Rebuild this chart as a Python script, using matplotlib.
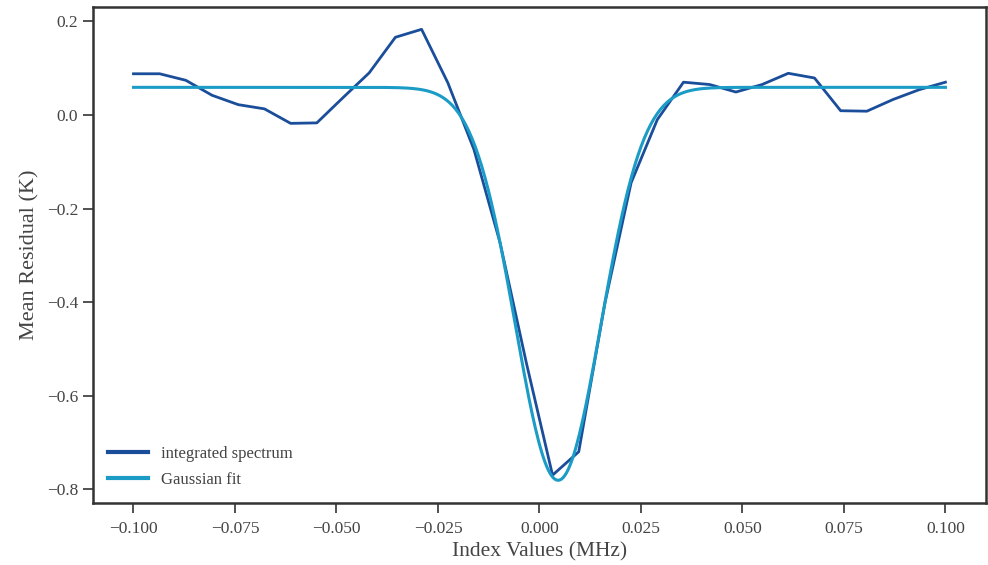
import numpy as np
import matplotlib
matplotlib.use('Agg')
import matplotlib.pyplot as plt

plt.rcParams['font.family'] = ['Liberation Serif', 'DejaVu Serif']
plt.rcParams['mathtext.fontset'] = 'stix'

# integrated spectrum, 32 channels between -0.1 and 0.1 MHz
freq = np.linspace(-0.1, 0.1, 32)
residual = [0.088, 0.088, 0.074, 0.042, 0.022, 0.013, -0.018, -0.017,
            0.037, 0.090, 0.166, 0.183, 0.069, -0.074, -0.274, -0.530,
            -0.770, -0.720, -0.402, -0.145, -0.010, 0.070, 0.065, 0.049,
            0.065, 0.089, 0.079, 0.009, 0.008, 0.033, 0.054, 0.070]

# gaussian fit parameters
offset = 0.059
amp = -0.840
center = 0.0046
sigma = 0.0105

x_fit = np.linspace(-0.1, 0.1, 500)
y_fit = offset + amp * np.exp(-(x_fit - center) ** 2 / (2 * sigma ** 2))

dark = '#1a4e9a'
light = '#1b9cc6'
gray = '#333333'

fig = plt.figure(figsize=(9.88, 5.65), dpi=100)
ax = fig.add_axes([0.094, 0.110, 0.904, 0.878])

ax.plot(freq, residual, color=dark, lw=2.0, label='integrated spectrum')
ax.plot(x_fit, y_fit, color=light, lw=2.2, label='Gaussian fit')

ax.set_xticks([-0.1, -0.075, -0.05, -0.025, 0.0, 0.025, 0.05, 0.075, 0.1])
ax.set_yticks([-0.8, -0.6, -0.4, -0.2, 0.0, 0.2])
ax.tick_params(direction='out', length=7, width=1.2, colors=gray,
               labelsize=12.5, labelcolor='#444444')
ax.tick_params(axis='x', pad=6)
for s in ax.spines.values():
    s.set_color(gray)
    s.set_linewidth(1.8)

ax.set_xlabel('Index Values (MHz)', fontsize=15.5, color='#444444', labelpad=4)
ax.set_ylabel('Mean Residual (K)', fontsize=16, color='#444444', labelpad=5)

leg = ax.legend(loc='lower left', frameon=False, fontsize=12,
                handlelength=2.4, labelspacing=0.6)
for t in leg.get_texts():
    t.set_color('#444444')
for h in leg.legend_handles:
    h.set_linewidth(3)

fig.savefig('out.png', dpi=100)
